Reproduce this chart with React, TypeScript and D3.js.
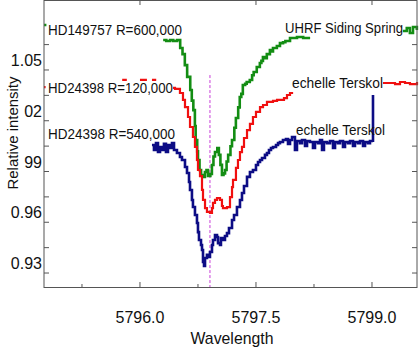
import React from 'react';
import * as d3 from 'd3';

// constants
const width = 420;
const height = 351;
const plot = { left: 44, right: 417, top: 0, bottom: 287 };

// data (null marks a gap where the original label hides the trace)
const greenWave = [5794.76, 5794.79, null,
  5796.30, 5796.34, 5796.39, 5796.43, 5796.48, 5796.52, 5796.55, 5796.58, 5796.61, 5796.65,
  5796.67, 5796.69, 5796.71, 5796.72, 5796.74, 5796.75, 5796.77, 5796.79, 5796.82, 5796.84,
  5796.86, 5796.88, 5796.91, 5796.93, 5796.95, 5796.97, 5797.00, 5797.02, 5797.04, 5797.06,
  5797.08, 5797.10, 5797.12, 5797.14, 5797.17, 5797.19, 5797.22, 5797.24, 5797.27, 5797.29,
  5797.31, 5797.33, 5797.36, 5797.38, 5797.42, 5797.45, 5797.47, 5797.51, 5797.55, 5797.57,
  5797.59, 5797.62, 5797.64, 5797.68, 5797.70, 5797.72, 5797.77, 5797.81, 5797.85, 5797.88,
  5797.94, 5798.03, 5798.11, 5798.20, null,
  5799.40, 5799.45, 5799.49, 5799.53, 5799.58];
const greenFlux = [1.0707, 1.0707, null,
  1.0618, 1.0612, 1.0618, 1.0612, 1.0618, 1.0571, 1.0535, 1.0470, 1.0400, 1.0323,
  1.0260, 1.0204, 1.0110, 1.0027, 0.9960, 0.9909, 0.9850, 0.9820, 0.9809, 0.9838,
  0.9850, 0.9815, 0.9826, 0.9879, 0.9930, 0.9956, 0.9980, 0.9939, 0.9880, 0.9820,
  0.9830, 0.9850, 0.9900, 0.9939, 0.9990, 1.0027, 1.0100, 1.0157, 1.0220, 1.0281,
  1.0300, 1.0352, 1.0360, 1.0370, 1.0382, 1.0410, 1.0429, 1.0459, 1.0482, 1.0495,
  1.0518, 1.0510, 1.0535, 1.0559, 1.0550, 1.0571, 1.0583, 1.0600, 1.0605, 1.0612,
  1.0630, 1.0636, 1.0630, 1.0630, null,
  1.0671, 1.0689, 1.0660, 1.0695, 1.0677];

const redWave = [5794.76, 5794.78, null, 5795.77, 5795.83, null, 5796.00, 5796.09, null, 5796.155, 5796.21, null,
  5796.427, 5796.453, 5796.517, 5796.556, 5796.582, 5796.621, 5796.647, 5796.685, 5796.711, 5796.737,
  5796.750, 5796.776, 5796.802, 5796.815, 5796.841, 5796.866, 5796.905, 5796.931, 5796.944, 5796.970,
  5796.996, 5797.035, 5797.060, 5797.073, 5797.099, 5797.125, 5797.164, 5797.190, 5797.203, 5797.241,
  5797.267, 5797.293, 5797.319, 5797.345, 5797.384, 5797.422, 5797.461, 5797.500, 5797.552, 5797.591,
  5797.642, 5797.681, 5797.720, 5797.772, 5797.810, 5797.862, 5797.901, 5797.940, 5797.966, null,
  5799.142, 5799.233, 5799.298, 5799.362, 5799.427, 5799.491, 5799.582];
const redFlux = [1.0340, 1.0340, null, 1.0382, 1.0382, null, 1.0382, 1.0382, null, 1.0382, 1.0382, null,
  1.0335, 1.0329, 1.0305, 1.0264, 1.0222, 1.0163, 1.0104, 1.0045, 0.9986, 0.9909,
  0.9850, 0.9814, 0.9732, 0.9673, 0.9625, 0.9602, 0.9596, 0.9625, 0.9655, 0.9673,
  0.9684, 0.9673, 0.9637, 0.9625, 0.9625, 0.9631, 0.9690, 0.9749, 0.9791, 0.9862,
  0.9909, 0.9956, 0.9986, 1.0039, 1.0086, 1.0122, 1.0163, 1.0193, 1.0222, 1.0234,
  1.0252, 1.0252, 1.0258, 1.0264, 1.0264, 1.0275, 1.0293, 1.0305, 1.0311, null,
  1.0364, 1.0364, 1.0358, 1.0370, 1.0364, 1.0358, 1.0370];

const blueWave = [5796.155, 5796.181, 5796.207, 5796.233, 5796.259, 5796.284, 5796.310, 5796.336, 5796.362, 5796.388,
  5796.414, 5796.440, 5796.478, 5796.517, 5796.543, 5796.582, 5796.608, 5796.634, 5796.647, 5796.672,
  5796.685, 5796.711, 5796.737, 5796.750, 5796.763, 5796.789, 5796.802, 5796.815, 5796.828, 5796.841,
  5796.866, 5796.892, 5796.905, 5796.931, 5796.944, 5796.970, 5796.996, 5797.009, 5797.035, 5797.047,
  5797.073, 5797.099, 5797.125, 5797.151, 5797.190, 5797.216, 5797.254, 5797.293, 5797.319, 5797.345,
  5797.384, 5797.422, 5797.461, 5797.500, 5797.526, 5797.552, 5797.578, 5797.616, 5797.642, 5797.668,
  5797.694, 5797.720, 5797.759, 5797.785, 5797.810, 5797.849, 5797.888, 5797.914, 5797.940, 5797.966,
  5798.004, 5798.030, 5798.069, 5798.095, 5798.134, 5798.160, 5798.198, 5798.237, 5798.263, 5798.302,
  5798.328, 5798.354, 5798.379, 5798.418, 5798.457, 5798.496, 5798.522, 5798.560, 5798.586, 5798.625,
  5798.651, 5798.690, 5798.716, 5798.754, 5798.780, 5798.819, 5798.845, 5798.884, 5798.910, 5798.948,
  5798.974, 5799.013, 5799.013];
const blueFlux = [0.9998, 0.9968, 1.0009, 0.9956, 0.9986, 0.9968, 1.0004, 0.9956, 0.9998, 0.9980,
  1.0009, 0.9968, 0.9950, 0.9927, 0.9909, 0.9868, 0.9832, 0.9779, 0.9732, 0.9673,
  0.9631, 0.9584, 0.9537, 0.9483, 0.9436, 0.9407, 0.9377, 0.9306, 0.9283, 0.9330,
  0.9348, 0.9336, 0.9365, 0.9407, 0.9436, 0.9466, 0.9454, 0.9418, 0.9407, 0.9448,
  0.9436, 0.9460, 0.9477, 0.9507, 0.9554, 0.9584, 0.9631, 0.9673, 0.9714, 0.9755,
  0.9809, 0.9838, 0.9850, 0.9879, 0.9897, 0.9909, 0.9921, 0.9939, 0.9950, 0.9968,
  0.9980, 0.9986, 0.9998, 1.0009, 1.0015, 1.0027, 1.0033, 1.0004, 1.0027, 1.0045,
  0.9968, 1.0021, 1.0009, 1.0027, 0.9992, 1.0021, 1.0015, 0.9980, 1.0015, 1.0009,
  1.0027, 0.9968, 1.0015, 1.0009, 1.0021, 0.9980, 1.0015, 1.0009, 1.0021, 0.9986,
  1.0015, 1.0009, 1.0021, 0.9992, 1.0015, 1.0009, 1.0021, 0.9992, 1.0015, 1.0009,
  1.0021, 1.0015, 1.0293];

// axis ticks
const xMajorTicks = [5796.0, 5797.5, 5799.0];
const xMinorTicks = [5795.25, 5796.75, 5798.25];
const yTicks = [0.9241, 0.9391, 0.9541, 0.9691, 0.9841, 0.9991, 1.0141, 1.0291, 1.0441, 1.0591];
const yLabelValues = [1.05, 1.02, 0.99, 0.96, 0.93];
const yLabelText = ['1.05', '02', '99', '0.96', '0.93'];
const markerWave = 5796.905;
const markerTop = 1.0411;

const series = [
  { wave: greenWave, flux: greenFlux, color: '#138d13', w: 2.6 },
  { wave: redWave, flux: redFlux, color: '#f01010', w: 2.2 },
  { wave: blueWave, flux: blueFlux, color: '#0c0c85', w: 2.6 },
];

const labels = [
  { text: 'HD149757 R=600,000', x: 48, y: 35, len: 134 },
  { text: 'HD24398 R=120,000', x: 48, y: 93, len: 125 },
  { text: 'HD24398 R=540,000', x: 48, y: 139, len: 127 },
  { text: 'UHRF Siding Spring', x: 285, y: 33, len: 118 },
  { text: 'echelle Terskol', x: 292, y: 88, len: 91 },
  { text: 'echelle Terskol', x: 296, y: 135, len: 89 },
];

const font = '"Liberation Sans", Arial, sans-serif';

const App = () => {
  // scales
  const x = d3.scaleLinear().domain([5794.759, 5799.582]).range([plot.left, plot.right]);
  const y = d3.scaleLinear().domain([0.91584, 1.08546]).range([plot.bottom, plot.top]);

  const line = d3.line<[number, number | null]>()
    .defined(d => d[0] != null && d[1] != null)
    .x(d => x(d[0]))
    .y(d => y(d[1] as number))
    .curve(d3.curveStepAfter);

  return (
    <svg width={width} height={height} style={{ position: 'absolute', left: 0, top: 0, background: '#fff' }}>
      <rect x={0} y={0} width={width} height={height} fill="#fff" />

      {/* magenta marker */}
      <line x1={x(markerWave)} x2={x(markerWave)} y1={y(markerTop)} y2={plot.bottom}
        stroke="#c83cd8" strokeWidth={1} strokeDasharray="3,2" />

      {series.map((s, i) => (
        <path key={i}
          d={line(s.wave.map((w, j) => [w as number, s.flux[j]])) || ''}
          fill="none" stroke={s.color} strokeWidth={s.w} strokeLinejoin="miter" />
      ))}

      {/* frame */}
      <rect x={plot.left} y={plot.top + 0.5} width={plot.right - plot.left} height={plot.bottom - plot.top}
        fill="none" stroke="#555" strokeWidth={1} />

      {/* x ticks */}
      {xMajorTicks.map(t => (
        <g key={'M' + t}>
          <line x1={x(t)} x2={x(t)} y1={plot.bottom} y2={plot.bottom - 5} stroke="#555" />
          <line x1={x(t)} x2={x(t)} y1={plot.top} y2={plot.top + 5} stroke="#555" />
          <text x={x(t)} y={323} textAnchor="middle" fontFamily={font} fontSize={16} fill="#111">
            {t.toFixed(1)}
          </text>
        </g>
      ))}
      {xMinorTicks.map(t => (
        <line key={'m' + t} x1={x(t)} x2={x(t)} y1={plot.bottom} y2={plot.bottom - 3} stroke="#555" />
      ))}

      {/* y ticks */}
      {yTicks.map(t => (
        <g key={'y' + t}>
          <line x1={plot.left} x2={plot.left + 5} y1={y(t)} y2={y(t)} stroke="#555" />
          <line x1={plot.right} x2={plot.right - 5} y1={y(t)} y2={y(t)} stroke="#555" />
        </g>
      ))}
      {yLabelValues.map((v, i) => (
        <text key={'yl' + i} x={42} y={y(v) + 6} textAnchor="end" fontFamily={font} fontSize={16} fill="#111">
          {yLabelText[i]}
        </text>
      ))}

      {/* annotations */}
      {labels.map((l, i) => (
        <text key={'l' + i} x={l.x} y={l.y} fontFamily={font} fontSize={14} fill="#111"
          textLength={l.len} lengthAdjust="spacingAndGlyphs">
          {l.text}
        </text>
      ))}

      {/* axis titles */}
      <text transform="translate(18,133) rotate(-90)" textAnchor="middle" fontFamily={font} fontSize={15}
        fill="#111" textLength={113} lengthAdjust="spacingAndGlyphs">
        Relative intensity
      </text>
      <text x={232} y={344} textAnchor="middle" fontFamily={font} fontSize={17} fill="#111"
        textLength={83} lengthAdjust="spacingAndGlyphs">
        Wavelength
      </text>
    </svg>
  );
};

export default App;
